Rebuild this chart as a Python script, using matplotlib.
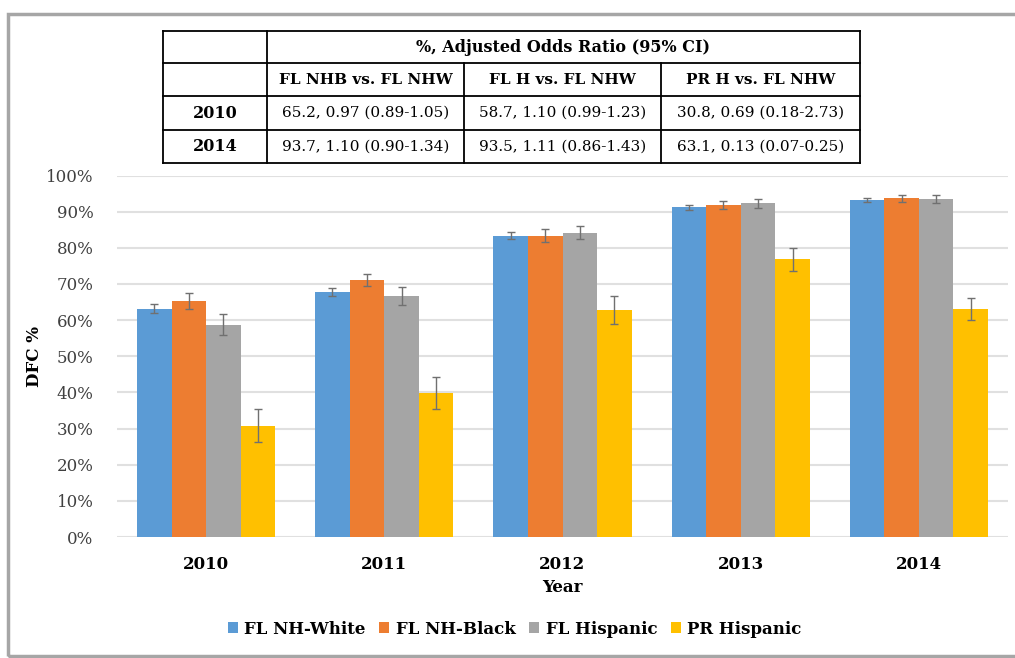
import matplotlib
matplotlib.use("Agg")
import matplotlib.pyplot as plt
from matplotlib.patches import Rectangle
import numpy as np

years = ["2010", "2011", "2012", "2013", "2014"]
groups = ["FL NH-White", "FL NH-Black", "FL Hispanic", "PR Hispanic"]
colors = ["#5B9BD5", "#ED7D31", "#A5A5A5", "#FFC000"]

# DFC % by group, and half-width of the error bars
fl_white = [63.2, 67.8, 83.4, 91.2, 93.1]
fl_black = [65.2, 71.0, 83.4, 91.8, 93.7]
fl_hisp = [58.7, 66.6, 84.2, 92.3, 93.5]
pr_hisp = [30.8, 39.8, 62.8, 76.8, 63.1]
err_white = [1.3, 1.2, 0.9, 0.7, 0.55]
err_black = [2.2, 1.7, 1.7, 1.2, 1.0]
err_hisp = [2.9, 2.5, 1.7, 1.3, 1.2]
err_pr = [4.5, 4.5, 3.8, 3.2, 3.0]

values = [fl_white, fl_black, fl_hisp, pr_hisp]
errors = [err_white, err_black, err_hisp, err_pr]

# table above the chart
table_title = "%, Adjusted Odds Ratio (95% CI)"
table_cols = ["FL NHB vs. FL NHW", "FL H vs. FL NHW", "PR H vs. FL NHW"]
table_rows = ["2010", "2014"]
table_2010 = ["65.2, 0.97 (0.89-1.05)", "58.7, 1.10 (0.99-1.23)", "30.8, 0.69 (0.18-2.73)"]
table_2014 = ["93.7, 1.10 (0.90-1.34)", "93.5, 1.11 (0.86-1.43)", "63.1, 0.13 (0.07-0.25)"]

plt.rcParams['font.family'] = ['DejaVu Serif']

W, H = 1015, 658
fig = plt.figure(figsize=(W / 100, H / 100), dpi=100)

# grey frame around the picture
fig.patches.append(Rectangle((8 / W, 2 / H), 1.2, 1 - 16 / H, transform=fig.transFigure,
                             fill=False, edgecolor="#a6a6a6", linewidth=2.5))

ax = fig.add_axes([117 / W, 1 - 537 / H, 891 / W, 361.5 / H])
x = np.arange(len(years))
bw = 0.194
for i in range(4):
    ax.bar(x + (i - 1.5) * bw, values[i], bw, color=colors[i], label=groups[i],
           yerr=errors[i], error_kw=dict(ecolor="#707070", elinewidth=1.0, capsize=3, capthick=1.0),
           zorder=3)

ax.set_ylim(0, 100)
ax.set_xlim(-0.5, 4.5)
ax.set_yticks(range(0, 101, 10))
ax.set_yticklabels([f"{v}%" for v in range(0, 101, 10)], fontsize=12, color="#404040")
ax.set_xticks(x)
ax.set_xticklabels(years, fontsize=12, fontweight="bold")
ax.tick_params(length=0)
ax.tick_params(axis="y", pad=17)
ax.tick_params(axis="x", pad=14)
ax.grid(axis="y", color="#e0e0e0", linewidth=1.5, zorder=0)
for s in ax.spines.values():
    s.set_visible(False)
ax.set_ylabel("DFC %", fontsize=12, fontweight="bold", labelpad=2)
ax.set_xlabel("Year", fontsize=12, fontweight="bold", labelpad=4)

fig.legend(loc="center", bbox_to_anchor=(0.507, 1 - 629 / H), ncol=4, frameon=False,
           prop=dict(size=12, weight="bold"), handlelength=0.6, handleheight=0.6,
           columnspacing=0.8, handletextpad=0.4)

# table drawn with lines and text
tx = [163, 267, 464, 661, 860]
ty = [31, 63, 96, 130, 163]
tax = fig.add_axes([0, 0, 1, 1])
tax.set_xlim(0, W)
tax.set_ylim(H, 0)
tax.axis("off")
lk = dict(color="black", linewidth=1.3)
for yy in ty:
    tax.plot([tx[0], tx[-1]], [yy, yy], **lk)
for xx in [tx[0], tx[1], tx[-1]]:
    tax.plot([xx, xx], [ty[0], ty[-1]], **lk)
for xx in tx[2:4]:
    tax.plot([xx, xx], [ty[1], ty[-1]], **lk)

def mid(a, b):
    return (a + b) / 2

tax.text(mid(tx[1], tx[-1]), mid(ty[0], ty[1]), table_title, ha="center", va="center",
         fontsize=11.5, fontweight="bold")
for j, c in enumerate(table_cols):
    tax.text(mid(tx[j + 1], tx[j + 2]), mid(ty[1], ty[2]), c, ha="center", va="center",
             fontsize=11, fontweight="bold")
for r, (lab, row) in enumerate(zip(table_rows, [table_2010, table_2014])):
    yc = mid(ty[r + 2], ty[r + 3])
    tax.text(mid(tx[0], tx[1]), yc, lab, ha="center", va="center", fontsize=11.5, fontweight="bold")
    for j, v in enumerate(row):
        tax.text(mid(tx[j + 1], tx[j + 2]), yc, v, ha="center", va="center", fontsize=11)

fig.savefig("out.png", dpi=100)
